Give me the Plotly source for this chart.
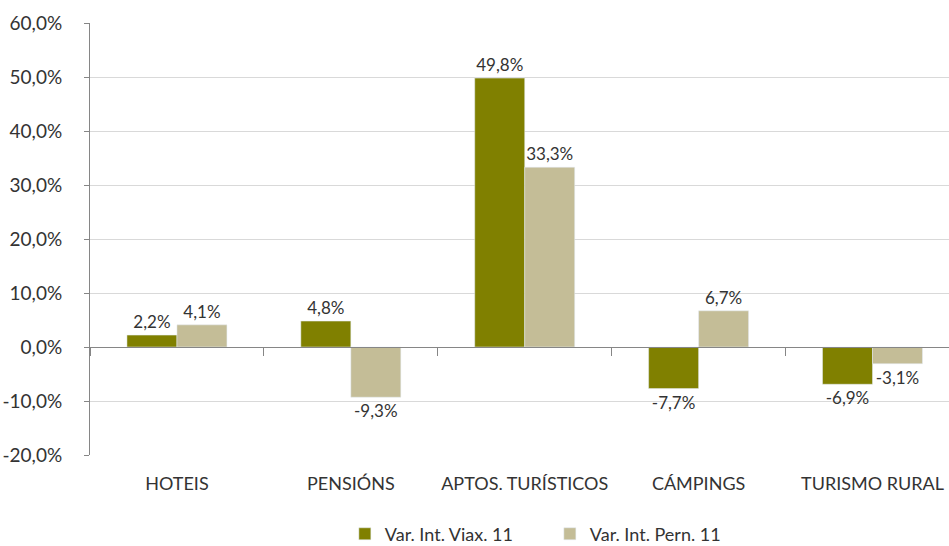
import plotly.graph_objects as go

categories = ["HOTEIS", "PENSIÓNS", "APTOS. TURÍSTICOS", "CÁMPINGS", "TURISMO RURAL"]
viax = [2.2, 4.8, 49.8, -7.7, -6.9]
pern = [4.1, -9.3, 33.3, 6.7, -3.1]
series_names = ["Var. Int. Viax. 11", "Var. Int. Pern. 11"]
y_ticks = [-20, -10, 0, 10, 20, 30, 40, 50, 60]
y_ticktext = [f"{v:.1f}%".replace(".", ",") for v in y_ticks]

def fmt(v):
    return f"{v:.1f}%".replace(".", ",")

font = "Lato, 'Open Sans', sans-serif"
fig = go.Figure()
fig.add_trace(go.Bar(x=categories, y=viax, name=series_names[0], marker_color="#808000",
                     text=[fmt(v) for v in viax], textposition="outside", cliponaxis=False,
                     textfont=dict(size=17, color="#333333")))
fig.add_trace(go.Bar(x=categories, y=pern, name=series_names[1], marker_color="#C4BD97",
                     text=[fmt(v) for v in pern], textposition="outside", cliponaxis=False,
                     textfont=dict(size=17, color="#333333")))
fig.add_trace(go.Scatter(x=categories, y=[0]*5, xaxis="x2", yaxis="y", mode="markers",
                         marker=dict(opacity=0), showlegend=False, hoverinfo="skip"))

xr = [-0.5, 4.44]
fig.update_layout(
    width=949, height=546,
    margin=dict(l=90, r=0, t=23, b=91, autoexpand=False),
    paper_bgcolor="white", plot_bgcolor="white",
    font=dict(family=font, size=18, color="#333333"),
    barmode="group", bargap=0.425, bargroupgap=0,
    showlegend=True,
    legend=dict(orientation="h", x=(345 - 90) / 859.5, xanchor="left",
                y=-0.19 + 3 / 432, yanchor="middle",
                font=dict(size=18, color="#333333"), entrywidth=160, entrywidthmode="pixels",
                traceorder="normal"),
    xaxis=dict(type="category", categoryarray=categories, range=xr,
               anchor="free", position=(0 - (-20)) / 80, showticklabels=False,
               tickson="boundaries", ticks="outside", ticklen=8, tickcolor="#868686",
               showline=True, linecolor="#868686", linewidth=1, showgrid=False,
               automargin=False),
    xaxis2=dict(type="category", categoryarray=categories, range=xr, overlaying="x",
                anchor="y", side="bottom", showline=False, ticks="", showgrid=False,
                ticklabelstandoff=16, automargin=False,
                tickfont=dict(size=18, color="#333333")),
    yaxis=dict(range=[-20, 60], tickvals=y_ticks, ticktext=y_ticktext,
               showgrid=True, gridcolor="#D9D9D9", gridwidth=1, zeroline=False,
               showline=True, linecolor="#868686", ticks="outside", ticklen=5,
               tickcolor="#868686", ticklabelstandoff=18, automargin=False,
               tickfont=dict(size=19, color="#333333")),
)
fig.write_html("out.html", config={"displayModeBar": False},
               post_script="document.body.style.margin='0';")
